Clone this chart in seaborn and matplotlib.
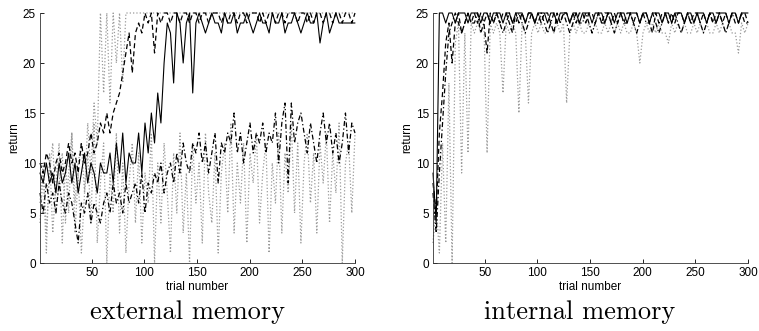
import numpy as np
import matplotlib
matplotlib.use('Agg')
import matplotlib.pyplot as plt
import seaborn as sns

# ensayos muestreados (cada ~3 trials)
trials = np.linspace(1, 300, 100)

# ---------------- memoria externa ----------------
ext_solid = [9, 8, 10, 8, 9, 7, 10, 8, 9, 11,
             8, 10, 7, 9, 11, 8, 10, 9, 7, 10,
             9, 9, 11, 8, 12, 9, 13, 8, 11, 10,
             10, 13, 9, 14, 11, 15, 12, 17, 14, 20,
             24, 23, 18, 25, 24, 20, 24, 25, 17, 24,
             25, 24, 23, 24, 25, 24, 24, 23, 25, 24,
             24, 25, 23, 24, 24, 25, 24, 23, 24, 25,
             24, 24, 23, 25, 24, 24, 25, 23, 24, 24,
             25, 24, 23, 24, 25, 24, 24, 25, 22, 24,
             25, 23, 24, 25, 24, 24, 24, 24, 24, 24]

ext_dash = [10, 9, 11, 10, 8, 10, 11, 9, 10, 12,
            10, 11, 9, 12, 10, 11, 13, 11, 12, 14,
            13, 15, 13, 15, 16, 17, 19, 21, 23, 19,
            23, 24, 23, 25, 24, 25, 21, 25, 24, 25,
            25, 24, 25, 25, 24, 25, 25, 24, 25, 25,
            24, 25, 25, 24, 25, 25, 25, 24, 25, 24,
            25, 25, 24, 25, 25, 24, 25, 25, 25, 24,
            25, 24, 25, 25, 24, 25, 25, 24, 25, 25,
            25, 24, 25, 25, 24, 25, 24, 25, 25, 24,
            25, 25, 24, 25, 25, 24, 25, 25, 24, 25]

ext_dashdot = [7, 5, 8, 6, 7, 5, 8, 6, 5, 7,
               6, 4, 2, 6, 5, 7, 4, 6, 5, 4,
               6, 7, 5, 8, 6, 7, 5, 8, 6, 7,
               8, 6, 9, 5, 8, 7, 9, 8, 10, 7,
               9, 10, 8, 11, 9, 12, 10, 9, 12, 11,
               13, 10, 12, 9, 11, 13, 8, 12, 11, 13,
               12, 15, 11, 13, 10, 12, 14, 11, 13, 12,
               14, 11, 13, 12, 15, 10, 14, 16, 8, 16,
               12, 14, 15, 13, 11, 14, 12, 10, 13, 15,
               12, 14, 11, 13, 10, 12, 15, 11, 14, 13]

ext_dot1 = [6, 10, 3, 9, 12, 5, 8, 11, 4, 9,
            13, 6, 10, 12, 7, 14, 9, 16, 12, 25,
            17, 25, 16, 25, 20, 25, 18, 25, 25, 25,
            25, 25, 25, 25, 25, 25, 25, 25, 25, 25,
            25, 25, 25, 25, 25, 25, 25, 25, 25, 25,
            25, 25, 25, 25, 25, 25, 25, 25, 25, 25,
            25, 25, 25, 25, 25, 25, 25, 25, 25, 25,
            25, 25, 25, 25, 25, 25, 25, 25, 25, 25,
            25, 25, 25, 25, 25, 25, 25, 25, 25, 25,
            25, 25, 25, 25, 25, 25, 25, 25, 25, 25]

ext_dot2 = [4, 9, 1, 11, 3, 8, 12, 2, 10, 5,
            13, 3, 9, 1, 7, 11, 4, 14, 2, 8,
            12, 0, 9, 5, 13, 3, 10, 1, 8, 12,
            4, 11, 2, 9, 6, 13, 0, 10, 4, 12,
            7, 1, 11, 5, 13, 3, 9, 0, 12, 6,
            10, 2, 13, 7, 4, 11, 1, 9, 12, 5,
            14, 3, 10, 6, 12, 2, 11, 8, 13, 4,
            9, 12, 1, 10, 6, 13, 3, 11, 7, 14,
            5, 12, 2, 10, 13, 6, 11, 3, 12, 8,
            13, 4, 11, 7, 14, 0, 10, 12, 5, 13]

# ---------------- memoria interna ----------------
int_solid = [9, 4, 25, 25, 24, 25, 25, 24, 25, 25,
             25, 24, 25, 25, 25, 24, 25, 25, 24, 25,
             25, 25, 24, 25, 25, 24, 25, 25, 25, 24,
             25, 25, 24, 25, 25, 25, 24, 25, 25, 24,
             25, 25, 25, 24, 25, 25, 24, 25, 25, 25,
             24, 25, 25, 25, 24, 25, 25, 24, 25, 25,
             25, 24, 25, 25, 25, 24, 25, 25, 24, 25,
             25, 25, 24, 25, 25, 24, 25, 25, 25, 24,
             25, 25, 24, 25, 25, 25, 24, 25, 25, 24,
             25, 25, 25, 24, 25, 25, 24, 25, 25, 25]

int_dash = [8, 5, 13, 17, 22, 24, 20, 24, 25, 23,
            24, 25, 24, 25, 24, 25, 24, 21, 25, 24,
            25, 24, 25, 25, 24, 23, 25, 24, 25, 24,
            25, 25, 24, 25, 24, 25, 25, 24, 23, 25,
            24, 25, 25, 24, 25, 24, 25, 25, 24, 25,
            25, 24, 25, 24, 25, 25, 24, 25, 24, 25,
            24, 25, 25, 24, 25, 24, 25, 25, 24, 23,
            25, 24, 25, 25, 24, 25, 24, 25, 25, 24,
            25, 24, 25, 25, 24, 25, 24, 25, 24, 25,
            25, 24, 25, 24, 25, 25, 24, 25, 25, 24]

int_dashdot = [7, 3, 9, 14, 19, 23, 24, 25, 24, 23,
               24, 25, 24, 24, 25, 23, 24, 25, 24, 24,
               25, 24, 23, 24, 25, 24, 24, 25, 24, 23,
               24, 25, 24, 24, 25, 24, 23, 24, 25, 24,
               24, 25, 24, 23, 24, 25, 24, 24, 25, 24,
               23, 24, 25, 24, 24, 25, 24, 23, 24, 25,
               24, 24, 25, 24, 23, 24, 25, 24, 24, 25,
               24, 23, 24, 25, 24, 24, 25, 24, 23, 24,
               25, 24, 24, 25, 24, 23, 24, 25, 24, 24,
               25, 24, 23, 24, 25, 24, 24, 25, 24, 24]

int_dot = [2, 6, 1, 12, 2, 18, 0, 22, 24, 9,
           23, 11, 24, 23, 24, 23, 24, 11, 24, 23,
           24, 23, 17, 24, 23, 24, 23, 15, 24, 23,
           16, 23, 24, 23, 24, 23, 23, 24, 23, 24,
           23, 24, 16, 23, 24, 23, 24, 23, 23, 24,
           23, 24, 23, 23, 24, 23, 24, 23, 24, 23,
           24, 23, 23, 24, 23, 20, 23, 24, 23, 24,
           23, 24, 23, 23, 22, 24, 23, 24, 23, 24,
           23, 23, 24, 23, 24, 23, 24, 23, 23, 24,
           23, 24, 23, 24, 23, 23, 21, 24, 23, 24]

gris = '#9a9a9a'
series_ext = [
    (ext_dot2, gris, ':', 0.9),
    (ext_dot1, gris, ':', 0.9),
    (ext_dashdot, 'black', (0, (4, 2, 1, 2)), 0.9),
    (ext_dash, 'black', (0, (4, 2.5)), 0.9),
    (ext_solid, 'black', '-', 0.8),
]
series_int = [
    (int_dot, gris, ':', 0.9),
    (int_dashdot, 'black', (0, (4, 2, 1, 2)), 0.9),
    (int_dash, 'black', (0, (4, 2.5)), 0.9),
    (int_solid, 'black', '-', 0.8),
]

sns.set_theme(style='ticks')
plt.rcParams['font.family'] = ['Liberation Sans', 'DejaVu Sans']


def dibujar(ax, series):
    for vals, color, ls, lw in series:
        sns.lineplot(x=trials, y=vals, ax=ax, color=color, linestyle=ls,
                     linewidth=lw, clip_on=False)
    ax.set_xlim(1, 300)
    ax.set_ylim(0, 25)
    ax.set_xticks([50, 100, 150, 200, 250, 300])
    ax.set_yticks([0, 5, 10, 15, 20, 25])
    ax.tick_params(direction='in', length=3, width=0.6, labelsize=8.5,
                   pad=3, colors='black')
    for s in ['left', 'bottom']:
        ax.spines[s].set_linewidth(0.6)
        ax.spines[s].set_color('#333333')
    sns.despine(ax=ax)
    ax.set_xlabel('trial number', fontsize=8.5, labelpad=1, color='black')
    ax.set_ylabel('return', fontsize=8.5, labelpad=2, color='black')


fig = plt.figure(figsize=(7.59, 3.31), dpi=100)
ax1 = fig.add_axes([40 / 759, 68 / 331, 315 / 759, 250 / 331])
ax2 = fig.add_axes([433 / 759, 68 / 331, 315 / 759, 250 / 331])

dibujar(ax1, series_ext)
dibujar(ax2, series_int)

fig.text(188 / 759, 12 / 331, 'external memory', ha='center', va='baseline',
         fontsize=19, fontfamily='cmr10', color='black')
fig.text(580 / 759, 12 / 331, 'internal memory', ha='center', va='baseline',
         fontsize=19, fontfamily='cmr10', color='black')

fig.savefig('out.png', dpi=100)
